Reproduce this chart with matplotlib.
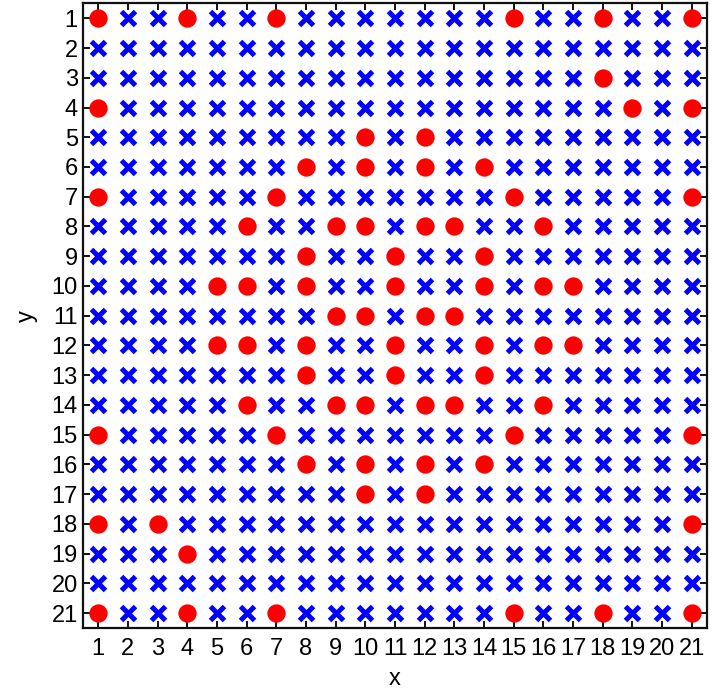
import matplotlib
matplotlib.use("Agg")
import matplotlib.pyplot as plt
import numpy as np

plt.rcParams['font.family'] = ['Liberation Sans', 'DejaVu Sans']

# Grid dimension (points at 1..n on both axes)
n = 21

# Highlighted cells, listed row by row: (x, y)
red_x = [1, 4, 7, 15, 18, 21,
         18,
         1, 19, 21,
         10, 12,
         8, 10, 12, 14,
         1, 7, 15, 21,
         6, 9, 10, 12, 13, 16,
         8, 11, 14,
         5, 6, 8, 11, 14, 16, 17,
         9, 10, 12, 13,
         5, 6, 8, 11, 14, 16, 17,
         8, 11, 14,
         6, 9, 10, 12, 13, 16,
         1, 7, 15, 21,
         8, 10, 12, 14,
         10, 12,
         1, 3, 21,
         4,
         1, 4, 7, 15, 18, 21]
red_y = [1, 1, 1, 1, 1, 1,
         3,
         4, 4, 4,
         5, 5,
         6, 6, 6, 6,
         7, 7, 7, 7,
         8, 8, 8, 8, 8, 8,
         9, 9, 9,
         10, 10, 10, 10, 10, 10, 10,
         11, 11, 11, 11,
         12, 12, 12, 12, 12, 12, 12,
         13, 13, 13,
         14, 14, 14, 14, 14, 14,
         15, 15, 15, 15,
         16, 16, 16, 16,
         17, 17,
         18, 18, 18,
         19,
         21, 21, 21, 21, 21, 21]

tick_values = list(range(1, n + 1))

# Remaining grid cells are drawn as crosses
red_set = set(zip(red_x, red_y))
gx, gy = np.meshgrid(tick_values, tick_values)
blue_pts = [(x, y) for x, y in zip(gx.ravel(), gy.ravel()) if (x, y) not in red_set]
blue_x = [p[0] for p in blue_pts]
blue_y = [p[1] for p in blue_pts]

fig = plt.figure(figsize=(7.13, 6.90), dpi=100)
ax = fig.add_axes([0.117, 0.090, 0.874, 0.905])

ax.plot(blue_x, blue_y, linestyle='none', marker='x', color='#0000FF',
        markersize=10.5, markeredgewidth=3.6)
ax.plot(red_x, red_y, linestyle='none', marker='o', color='#FF0000',
        markersize=13.2, markeredgewidth=0)

ax.set_xlim(0.5, n + 0.5)
ax.set_ylim(n + 0.5, 0.5)
ax.set_xticks(tick_values)
ax.set_yticks(tick_values)
ax.set_xticklabels([str(v) for v in tick_values])
ax.set_yticklabels([str(v) for v in tick_values])

ax.tick_params(axis='both', direction='in', length=5, width=1.3,
               labelsize=17, top=True, right=True, colors='black')
ax.tick_params(axis='x', pad=7)
ax.tick_params(axis='y', pad=4)

for s in ax.spines.values():
    s.set_linewidth(1.6)
    s.set_color('#111111')

ax.set_xlabel('x', fontsize=17, labelpad=6)
ax.set_ylabel('y', fontsize=17, labelpad=10)

fig.savefig('out.png', dpi=100)
